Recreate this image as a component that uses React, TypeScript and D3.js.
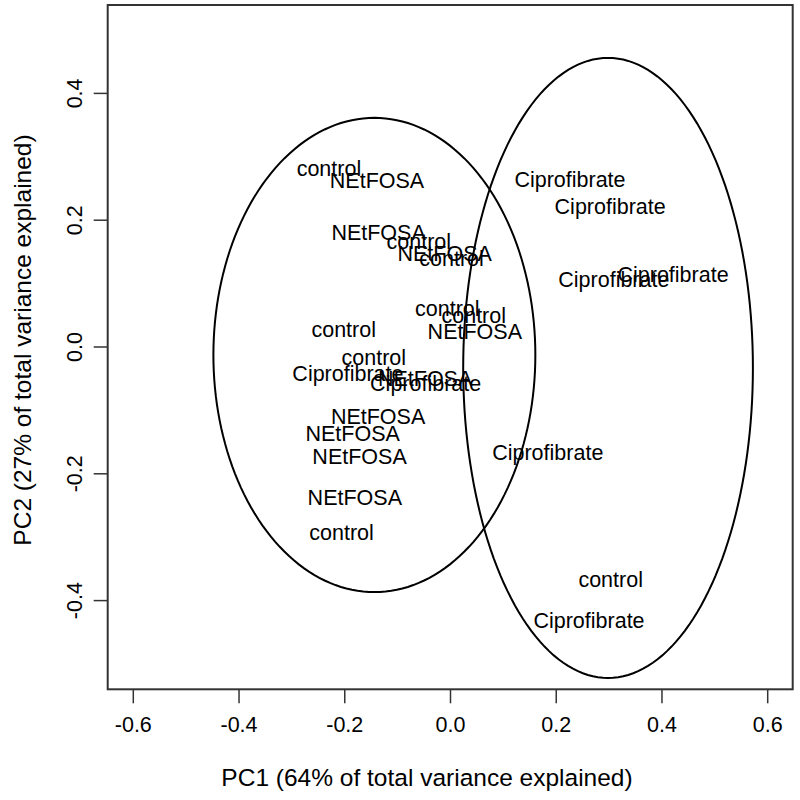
import React from "react";
import * as d3 from "d3";

const labels = [
  "control", "control", "control", "control", "control", "control", "control", "control", "control",
  "NEtFOSA", "NEtFOSA", "NEtFOSA", "NEtFOSA", "NEtFOSA", "NEtFOSA", "NEtFOSA", "NEtFOSA", "NEtFOSA",
  "Ciprofibrate", "Ciprofibrate", "Ciprofibrate", "Ciprofibrate", "Ciprofibrate", "Ciprofibrate", "Ciprofibrate", "Ciprofibrate",
];
const pc1 = [
  -0.230, -0.060, 0.002, -0.006, 0.044, -0.202, -0.145, -0.206, 0.303,
  -0.139, -0.136, -0.011, 0.046, -0.048, -0.137, -0.185, -0.172, -0.181,
  0.226, 0.302, 0.421, 0.309, -0.194, -0.047, 0.184, 0.262,
];
const pc2 = [
  0.281, 0.167, 0.140, 0.060, 0.049, 0.028, -0.016, -0.293, -0.367,
  0.262, 0.181, 0.147, 0.024, -0.049, -0.110, -0.136, -0.172, -0.237,
  0.265, 0.221, 0.114, 0.106, -0.041, -0.057, -0.167, -0.431,
];
// ellipses: center x, center y, radius x, radius y (data units)
const ellipseCx = [-0.144, 0.298];
const ellipseCy = [-0.0126, -0.033];
const ellipseRx = [0.3045, 0.274];
const ellipseRy = [0.374, 0.489];

const xTicks = [-0.6, -0.4, -0.2, 0.0, 0.2, 0.4, 0.6];
const yTicks = [-0.4, -0.2, 0.0, 0.2, 0.4];
const xTitle = "PC1 (64% of total variance explained)";
const yTitle = "PC2 (27% of total variance explained)";

export default function App() {
  const left = 107.7, right = 792.7, top = 5, bottom = 689.3;
  const x = d3.scaleLinear().domain([-0.6, 0.6]).range([133.3, 767.7]);
  const y = d3.scaleLinear().domain([-0.4, 0.4]).range([600.6, 93.4]);
  const fmt = (v: number) => d3.format(".1f")(v).replace("\u2212", "-");
  const font = "Liberation Sans, Arial, Helvetica, sans-serif";

  const ellipsePath = (i: number) => {
    const pts = d3.range(0, 361, 2).map((a) => {
      const t = (a * Math.PI) / 180;
      return [x(ellipseCx[i] + ellipseRx[i] * Math.cos(t)), y(ellipseCy[i] + ellipseRy[i] * Math.sin(t))] as [number, number];
    });
    return d3.line()(pts) + "Z";
  };

  return (
    <svg width={800} height={800} style={{ position: "absolute", left: 0, top: 0, background: "#fff" }} fontFamily={font}>
      <rect x={left} y={top} width={right - left} height={bottom - top} fill="none" stroke="#333" strokeWidth={2} />
      {xTicks.map((t) => (
        <g key={"x" + t}>
          <line x1={x(t)} x2={x(t)} y1={bottom} y2={bottom + 14} stroke="#333" strokeWidth={1.5} />
          <text x={x(t)} y={bottom + 35} dy="0.35em" textAnchor="middle" fontSize={21.5}>{fmt(t)}</text>
        </g>
      ))}
      {yTicks.map((t) => (
        <g key={"y" + t}>
          <line x1={left} x2={left - 14} y1={y(t)} y2={y(t)} stroke="#333" strokeWidth={1.5} />
          <text transform={`translate(${left - 33},${y(t)}) rotate(-90)`} dy="0.35em" textAnchor="middle" fontSize={21.5}>{fmt(t)}</text>
        </g>
      ))}
      <text x={427} y={777} dy="0.35em" textAnchor="middle" fontSize={24.5}>{xTitle}</text>
      <text transform={`translate(22,340) rotate(-90)`} dy="0.35em" textAnchor="middle" fontSize={24.5}>{yTitle}</text>
      {ellipseCx.map((_, i) => (
        <path key={"e" + i} d={ellipsePath(i)} fill="none" stroke="#000" strokeWidth={2} />
      ))}
      {labels.map((l, i) => (
        <text key={"p" + i} x={x(pc1[i])} y={y(pc2[i])} dy="0.35em" textAnchor="middle" fontSize={21.5}>{l}</text>
      ))}
    </svg>
  );
}
